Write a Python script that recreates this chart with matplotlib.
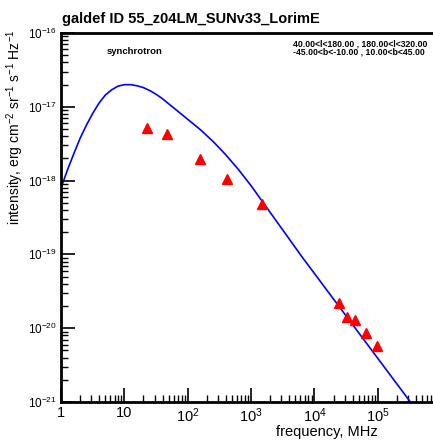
import matplotlib
matplotlib.use("Agg")
import matplotlib.pyplot as plt
from matplotlib.ticker import FuncFormatter, LogLocator, NullFormatter
import numpy as np

plt.rcParams['font.family'] = ['Liberation Sans', 'DejaVu Sans']
plt.rcParams['mathtext.fontset'] = 'custom'
plt.rcParams['mathtext.rm'] = 'Liberation Sans'
plt.rcParams['mathtext.it'] = 'Liberation Sans'

# model curve (log10 frequency MHz, log10 intensity)
model_logf = [0.0, 0.1, 0.2, 0.3, 0.4, 0.5, 0.6, 0.7, 0.8, 0.9, 1.0, 1.1, 1.2, 1.3,
              1.4, 1.5, 1.6, 1.7, 1.8, 1.9, 2.0, 2.2, 2.4, 2.6, 2.8, 3.0, 3.2, 3.4,
              3.6, 3.8, 4.0, 4.2, 4.4, 4.6, 4.8, 5.0, 5.2, 5.4, 5.6, 5.9]
model_logi = [-18.10, -17.86, -17.64, -17.43, -17.25, -17.09, -16.95, -16.84, -16.77,
              -16.72, -16.70, -16.70, -16.715, -16.74, -16.78, -16.83, -16.89, -16.96,
              -17.03, -17.10, -17.17, -17.31, -17.47, -17.65, -17.85, -18.07, -18.31,
              -18.55, -18.79, -19.03, -19.26, -19.49, -19.72, -19.95, -20.18, -20.41,
              -20.64, -20.87, -21.10, -21.44]

# measured points
data_f = [22.7, 47, 155, 415, 1480, 24000, 32000, 43000, 64000, 98000]
data_i = [5.1e-18, 4.3e-18, 1.95e-18, 1.05e-18, 4.8e-19,
          2.2e-20, 1.44e-20, 1.29e-20, 8.7e-21, 5.7e-21]

x_decades = [0, 1, 2, 3, 4, 5]
y_decades = [-21, -20, -19, -18, -17, -16]

title = "galdef ID 55_z04LM_SUNv33_LorimE"
region_text = "40.00<l<180.00 , 180.00<l<320.00\n-45.00<b<-10.00 , 10.00<b<45.00"

fig = plt.figure(figsize=(4.33, 4.40), dpi=100)
ax = fig.add_axes([61/433, 38/440, (433-61)/433, 369/440])

ax.plot(10**np.array(model_logf), 10**np.array(model_logi), color='blue', lw=1.2)
ax.plot(data_f, data_i, '^', color='red', ms=7, mec='red')

ax.set_xscale('log')
ax.set_yscale('log')
ax.set_xlim(1, 10**5.87)
ax.set_ylim(1e-21, 1e-16)

def xfmt(v, pos):
    n = int(round(np.log10(v)))
    if n == 0:
        return "1"
    if n == 1:
        return "10"
    return r"$10^{%d}$" % n

def yfmt(v, pos):
    n = int(round(np.log10(v)))
    return r"$10^{%d}$" % n

ax.set_xticks([10.0**n for n in x_decades])
ax.set_yticks([10.0**n for n in y_decades])
ax.xaxis.set_minor_locator(LogLocator(base=10, subs=np.arange(2, 10), numticks=20))
ax.xaxis.set_major_formatter(FuncFormatter(xfmt))
ax.xaxis.set_minor_formatter(NullFormatter())
ax.yaxis.set_minor_locator(LogLocator(base=10, subs=np.arange(2, 10), numticks=20))
ax.yaxis.set_major_formatter(FuncFormatter(yfmt))
ax.yaxis.set_minor_formatter(NullFormatter())

ax.tick_params(axis='both', which='both', direction='in', top=False, right=False)
ax.tick_params(axis='both', which='major', length=10, width=1.2)
ax.tick_params(axis='both', which='minor', length=5, width=1.0)
ax.tick_params(axis='x', which='major', labelsize=10.5, pad=3)
ax.tick_params(axis='y', which='major', labelsize=8.5, pad=3)

for s in ['left', 'bottom', 'top']:
    ax.spines[s].set_linewidth(2)
ax.spines['right'].set_visible(False)

fig.text(62/433, 1 - 19/440, title, fontsize=10.5, fontweight='bold', va='center', ha='left')
fig.text(107/433, 1 - 51/440, "synchrotron", fontsize=6.8, fontweight='bold', va='center')
fig.text(293/433, 1 - 48/440, region_text, fontsize=6.2, fontweight='bold',
         va='center', linespacing=0.72)
fig.text(378/433, 1 - 431.5/440, "frequency, MHz", fontsize=10.5, ha='right', va='center')
fig.text(15/433, 1 - 29/440,
         r"intensity, erg cm$^{-2}$ sr$^{-1}$ s$^{-1}$ Hz$^{-1}$",
         fontsize=10, rotation=90, ha='center', va='top')

fig.savefig("out.png", dpi=100)
